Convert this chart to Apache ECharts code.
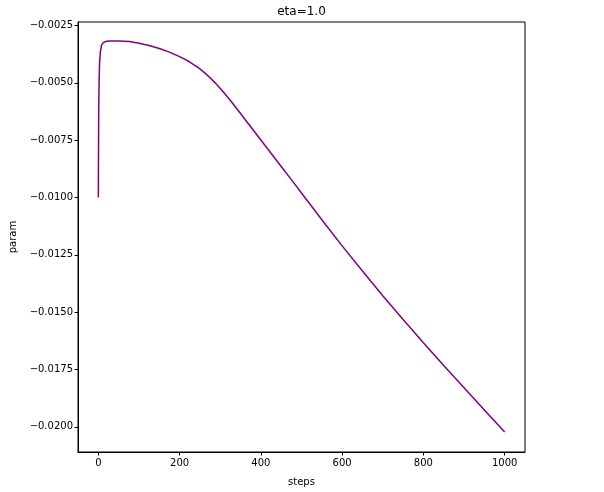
<!DOCTYPE html>
<html>
<head>
<meta charset="utf-8">
<script src="https://cdn.jsdelivr.net/npm/echarts@6/dist/echarts.min.js"></script>
<style>html,body{margin:0;padding:0;background:#fff;}#c{width:604px;height:492px;}</style>
</head>
<body>
<div id="c"></div>
<script>
const steps = [0, 1, 2, 3, 5, 8, 12, 20, 30, 50, 76, 100, 125, 150, 175, 200, 212.5, 225, 237.5, 250, 262.5, 275, 287.5, 300, 312.5, 325, 337.5, 350, 362.5, 375, 400, 425, 450, 475, 500, 550, 600, 650, 700, 750, 800, 850, 900, 950, 1000];
const param = [-0.0100, -0.00612, -0.00483, -0.00418, -0.00366, -0.00336, -0.00325, -0.00319, -0.00318, -0.00318, -0.00320, -0.003276, -0.003375, -0.003504, -0.003664, -0.003858, -0.003970, -0.004095, -0.004237, -0.004397, -0.004578, -0.004780, -0.005004, -0.005246, -0.005504, -0.005776, -0.006056, -0.006343, -0.006631, -0.006920, -0.007498, -0.008073, -0.008651, -0.009224, -0.009806, -0.01097, -0.012112, -0.013211, -0.014289, -0.015323, -0.016336, -0.017328, -0.018297, -0.019267, -0.02023];
const xTicks = [0, 200, 400, 600, 800, 1000];
const yTicks = [-0.0025, -0.0050, -0.0075, -0.0100, -0.0125, -0.0150, -0.0175, -0.0200];

const font = 'DejaVu Sans';
const chart = echarts.init(document.getElementById('c'), null, {renderer: 'canvas'});
chart.setOption({
  animation: false,
  backgroundColor: '#fff',
  title: {
    text: 'eta=1.0', left: 301.5, top: 6, padding: 0, textAlign: 'center',
    textStyle: {fontFamily: font, fontSize: 12, fontWeight: 'normal', color: '#000'}
  },
  grid: {left: 78, right: 79, top: 22, bottom: 35, show: true, borderColor: '#000', borderWidth: 1, backgroundColor: 'transparent'},
  xAxis: {
    type: 'value', min: -50, max: 1050,
    name: 'steps', nameLocation: 'middle', nameGap: 25,
    nameTextStyle: {fontFamily: font, fontSize: 10, color: '#000'},
    axisLine: {show: true, onZero: false, lineStyle: {color: '#000', width: 1}},
    axisTick: {show: true, customValues: xTicks, length: 3.5, lineStyle: {color: '#000'}},
    axisLabel: {customValues: xTicks, fontFamily: font, fontSize: 10, color: '#000', margin: 6,
      formatter: v => String(v)},
    splitLine: {show: false}
  },
  yAxis: {
    type: 'value', min: -0.0211, max: -0.00235,
    name: 'param', nameLocation: 'middle', nameGap: 58,
    nameTextStyle: {fontFamily: font, fontSize: 10, color: '#000'},
    axisLine: {show: true, onZero: false, lineStyle: {color: '#000', width: 1}},
    axisTick: {show: true, customValues: yTicks, length: 3.5, lineStyle: {color: '#000'}},
    axisLabel: {customValues: yTicks, fontFamily: font, fontSize: 10, color: '#000', margin: 5,
      formatter: v => (v < 0 ? '\u2212' : '') + Math.abs(v).toFixed(4)},
    splitLine: {show: false}
  },
  series: [{
    type: 'line', data: steps.map((s, i) => [s, param[i]]),
    showSymbol: false, smooth: false,
    lineStyle: {color: '#800080', width: 1.5}
  }]
});
</script>
</body>
</html>
